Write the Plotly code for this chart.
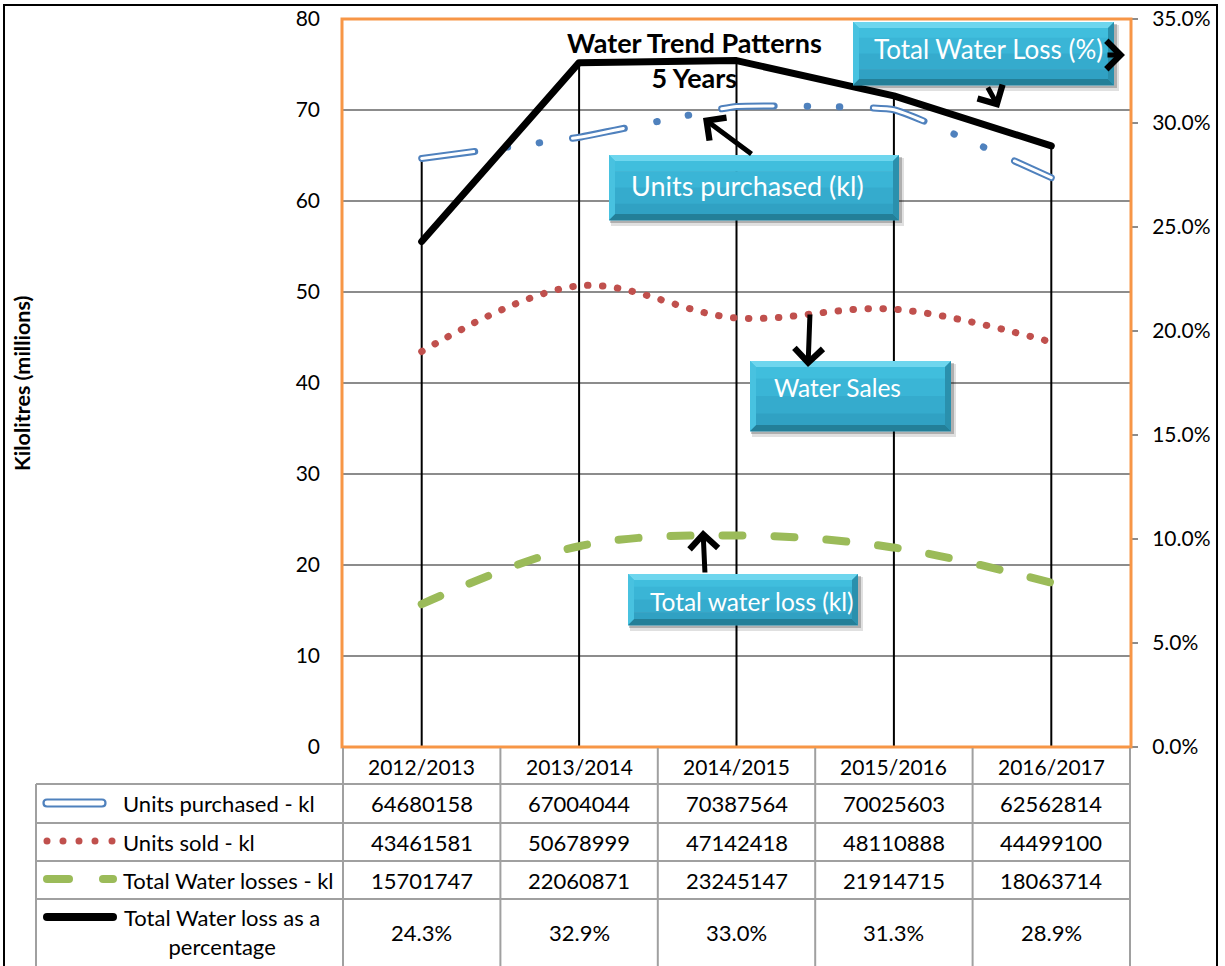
import plotly.graph_objects as go

# ---- data -------------------------------------------------------------
categories = ["2012/2013", "2013/2014", "2014/2015", "2015/2016", "2016/2017"]
units_purchased = [64680158, 67004044, 70387564, 70025603, 62562814]
units_sold = [43461581, 50678999, 47142418, 48110888, 44499100]
water_losses = [15701747, 22060871, 23245147, 21914715, 18063714]
loss_pct = [24.3, 32.9, 33.0, 31.3, 28.9]

row_labels = ["Units purchased - kl", "Units sold - kl", "Total Water losses - kl",
              "Total Water loss as a<br>percentage"]

Y_MAX, Y2_MAX = 80, 35

# ---- page geometry (pixels) --------------------------------------------
W, H = 1225, 966
PL, PR, PT, PB = 343, 1130, 19, 747          # plot area
FONT = "Lato"
BLUE, RED, GREEN, ORANGE = "#4F81BD", "#C0504D", "#9BBB59", "#F79646"
GRID = "#8C8C8C"
TABLE_LINE = "#A0A0A0"


def X(x):
    return x / W


def Y(y):
    return 1 - y / H


mil = lambda v: [a / 1e6 for a in v]

fig = go.Figure()

# drop lines from the highest series value of each year down to the axis
drop_x, drop_y = [], []
for c, p, pct in zip(categories, units_purchased, loss_pct):
    top = max(p / 1e6, pct * Y_MAX / Y2_MAX)
    drop_x += [c, c, None]
    drop_y += [0, top, None]
fig.add_trace(go.Scatter(x=drop_x, y=drop_y, mode="lines",
                         line=dict(color="black", width=2), hoverinfo="skip"))

# units purchased: outlined long dash with two dots
fig.add_trace(go.Scatter(x=categories, y=mil(units_purchased), mode="lines",
                         line=dict(color=BLUE, width=7, shape="spline", smoothing=0.3,
                                   dash="53px,33px,0.5px,31.5px,0.5px,33.5px"),
                         name="Units purchased - kl"))
fig.add_trace(go.Scatter(x=categories, y=mil(units_purchased), mode="lines",
                         line=dict(color="white", width=3, shape="spline", smoothing=0.3,
                                   dash="52px,100px"),
                         hoverinfo="skip"))
# units sold: round dots
fig.add_trace(go.Scatter(x=categories, y=mil(units_sold), mode="lines",
                         line=dict(color=RED, width=7, shape="spline",
                                   dash="0.5px,14.5px"),
                         name="Units sold - kl"))
# water losses: dashes
fig.add_trace(go.Scatter(x=categories, y=mil(water_losses), mode="lines",
                         line=dict(color=GREEN, width=8, shape="spline",
                                   dash="20px,32px"),
                         name="Total Water losses - kl"))
# loss percentage on the secondary axis
fig.add_trace(go.Scatter(x=categories, y=loss_pct, mode="lines", yaxis="y2",
                         line=dict(color="black", width=7),
                         name="Total Water loss as a percentage"))

shapes = []
annotations = []

# outer chart frame
shapes.append(dict(type="rect", xref="paper", yref="paper",
                   x0=X(4), x1=X(1217), y0=-0.05, y1=Y(5),
                   line=dict(color="black", width=2), layer="above"))
# plot area border
shapes.append(dict(type="rect", xref="paper", yref="paper",
                   x0=X(PL - 1), x1=X(PR + 1), y0=Y(PB), y1=Y(PT),
                   line=dict(color=ORANGE, width=3), layer="above"))

# ---- data table ---------------------------------------------------------
col_w = (PR - PL) / len(categories)
col_edges = [PL + i * col_w for i in range(len(categories) + 1)]
col_mid = [PL + (i + 0.5) * col_w for i in range(len(categories))]
row_edges = [PB, 784, 823, 861, 899, 1000]
TL = 36

for xe in col_edges:
    shapes.append(dict(type="line", xref="paper", yref="paper",
                       x0=X(xe), x1=X(xe), y0=Y(PB + 1), y1=Y(1000),
                       line=dict(color=TABLE_LINE, width=2), layer="above"))
shapes.append(dict(type="line", xref="paper", yref="paper",
                   x0=X(TL), x1=X(TL), y0=Y(row_edges[1]), y1=Y(1000),
                   line=dict(color=TABLE_LINE, width=2), layer="above"))
for ye in row_edges[1:5]:
    shapes.append(dict(type="line", xref="paper", yref="paper",
                       x0=X(TL), x1=X(PR), y0=Y(ye), y1=Y(ye),
                       line=dict(color=TABLE_LINE, width=2), layer="above"))

TXT = dict(family=FONT, size=22, color="black")
HDR = dict(family=FONT, size=21, color="black")

for cx, c in zip(col_mid, categories):
    annotations.append(dict(xref="paper", yref="paper", x=X(cx), y=Y(766),
                            text=c, showarrow=False, font=HDR,
                            xanchor="center", yanchor="middle"))

table_rows = [
    [str(v) for v in units_purchased],
    [str(v) for v in units_sold],
    [str(v) for v in water_losses],
    [f"{v:.1f}%" for v in loss_pct],
]
row_y = [803.5, 842, 880, 932]
for vals, ry in zip(table_rows, row_y):
    for cx, t in zip(col_mid, vals):
        annotations.append(dict(xref="paper", yref="paper", x=X(cx), y=Y(ry),
                                text=t, showarrow=False, font=TXT,
                                xanchor="center", yanchor="middle"))

for lab, ry in zip(row_labels[:3], row_y[:3]):
    annotations.append(dict(xref="paper", yref="paper", x=X(121), y=Y(ry),
                            text=lab, showarrow=False, font=TXT,
                            xanchor="left", yanchor="middle"))
annotations.append(dict(xref="paper", yref="paper", x=X(222), y=Y(932),
                        text=row_labels[3], showarrow=False, font=TXT,
                        xanchor="center", yanchor="middle", align="center"))


def capsule(x0, x1, yc, r):
    return (f"M {X(x0)},{Y(yc - r)} L {X(x1)},{Y(yc - r)} "
            f"Q {X(x1 + r)},{Y(yc - r)} {X(x1 + r)},{Y(yc)} "
            f"Q {X(x1 + r)},{Y(yc + r)} {X(x1)},{Y(yc + r)} "
            f"L {X(x0)},{Y(yc + r)} "
            f"Q {X(x0 - r)},{Y(yc + r)} {X(x0 - r)},{Y(yc)} "
            f"Q {X(x0 - r)},{Y(yc - r)} {X(x0)},{Y(yc - r)} Z")


# legend keys inside the table
shapes.append(dict(type="path", xref="paper", yref="paper",
                   path=capsule(47, 102, 803, 3.5), fillcolor="white",
                   line=dict(color=BLUE, width=2.2), layer="above"))
for dx in [47, 63, 79, 95, 112]:
    shapes.append(dict(type="circle", xref="paper", yref="paper",
                       x0=X(dx - 3.5), x1=X(dx + 3.5), y0=Y(841 + 3.5), y1=Y(841 - 3.5),
                       fillcolor=RED, line=dict(width=0), layer="above"))
for a, b in [(47, 69), (103, 113)]:
    shapes.append(dict(type="path", xref="paper", yref="paper",
                       path=capsule(a, b, 879, 4), fillcolor=GREEN,
                       line=dict(width=0), layer="above"))
shapes.append(dict(type="path", xref="paper", yref="paper",
                   path=capsule(47, 113, 917, 4), fillcolor="black",
                   line=dict(width=0), layer="above"))


# ---- callout boxes --------------------------------------------------------
def poly(pts):
    s = "M " + " L ".join(f"{X(a)},{Y(b)}" for a, b in pts) + " Z"
    return s


def callout(x0, y0, x1, y1, b=6):
    out = []
    # soft drop shadow
    out.append(dict(type="rect", xref="paper", yref="paper",
                    x0=X(x0 + 2), x1=X(x1 + 5), y0=Y(y1 + 6), y1=Y(y0 + 3),
                    fillcolor="rgba(0,0,0,0.12)", line=dict(width=0), layer="above"))
    out.append(dict(type="rect", xref="paper", yref="paper",
                    x0=X(x0 + 1), x1=X(x1 + 3), y0=Y(y1 + 3), y1=Y(y0 + 2),
                    fillcolor="rgba(0,0,0,0.22)", line=dict(width=0), layer="above"))
    # body with a stepped vertical gradient
    bands = ["#40BEDD", "#3AB5D6", "#35ABCD", "#30A1C3"]
    n = len(bands)
    for i, col in enumerate(bands):
        ya = y0 + (y1 - y0) * i / n
        yb = y0 + (y1 - y0) * (i + 1) / n
        out.append(dict(type="rect", xref="paper", yref="paper",
                        x0=X(x0), x1=X(x1), y0=Y(yb + 0.5), y1=Y(ya),
                        fillcolor=col, line=dict(width=0), layer="above"))
    # bevel edges
    out.append(dict(type="path", xref="paper", yref="paper", layer="above",
                    path=poly([(x0, y0), (x1, y0), (x1 - b, y0 + b), (x0 + b, y0 + b)]),
                    fillcolor="#6ED6EE", line=dict(width=0)))
    out.append(dict(type="path", xref="paper", yref="paper", layer="above",
                    path=poly([(x0, y1), (x1, y1), (x1 - b, y1 - b), (x0 + b, y1 - b)]),
                    fillcolor="#237F98", line=dict(width=0)))
    out.append(dict(type="path", xref="paper", yref="paper", layer="above",
                    path=poly([(x0, y0), (x0 + b, y0 + b), (x0 + b, y1 - b), (x0, y1)]),
                    fillcolor="#48C2E0", line=dict(width=0)))
    out.append(dict(type="path", xref="paper", yref="paper", layer="above",
                    path=poly([(x1, y0), (x1 - b, y0 + b), (x1 - b, y1 - b), (x1, y1)]),
                    fillcolor="#2A90AD", line=dict(width=0)))
    return out


# (box corners), label, text left edge, text centre line, font size
boxes = [
    ((853, 22, 1114, 85), "Total Water Loss (%)", 872, 49, 26),
    ((609, 155, 899, 220), "Units purchased (kl)", 629, 185, 27),
    ((750, 361, 951, 431), "Water Sales", 772, 388, 24.5),
    ((628, 574, 858, 625), "Total water loss (kl)", 648, 601, 24.5),
]
for (bx0, by0, bx1, by1), txt, tx, ty, fs in boxes:
    shapes += callout(bx0, by0, bx1, by1)
    annotations.append(dict(xref="paper", yref="paper", x=X(tx), y=Y(ty),
                            text=txt, showarrow=False,
                            font=dict(family=FONT, size=fs, color="white"),
                            xanchor="left", yanchor="middle"))

# arrows: (head, tail) in pixels
arrows = [
    ((1125, 55), (1106, 55)),
    ((999, 108), (987, 86)),
    ((703, 118), (753, 155)),
    ((808, 367), (810, 313)),
    ((703, 530), (705, 574)),
]
for (hx, hy), (tx, ty) in arrows:
    annotations.append(dict(xref="paper", yref="paper", x=X(hx), y=Y(hy),
                            ax=tx - hx, ay=ty - hy, axref="pixel", ayref="pixel",
                            text="", showarrow=True, arrowhead=4, arrowsize=1.1,
                            arrowwidth=5, arrowcolor="black", standoff=0,
                            startstandoff=0))

# chart title and axis title
annotations.append(dict(xref="paper", yref="paper", x=X(694), y=Y(60),
                        text="<b>Water Trend Patterns<br>5 Years</b>",
                        showarrow=False, align="center",
                        font=dict(family=FONT, size=27, color="black"),
                        xanchor="center", yanchor="middle"))
annotations.append(dict(xref="paper", yref="paper", x=X(22), y=Y(384),
                        text="<b>Kilolitres (millions)</b>", textangle=-90,
                        showarrow=False,
                        font=dict(family=FONT, size=21.5, color="black"),
                        xanchor="center", yanchor="middle"))

fig.update_layout(
    width=W, height=H,
    margin=dict(l=0, r=0, t=0, b=0, pad=0),
    paper_bgcolor="white", plot_bgcolor="white",
    showlegend=False,
    font=dict(family=FONT, size=20, color="black"),
    xaxis=dict(domain=[X(PL), X(PR)], range=[-0.5, len(categories) - 0.5],
               showticklabels=False, showgrid=False, zeroline=False,
               showline=False, ticks="", automargin=False),
    yaxis=dict(domain=[Y(PB), Y(PT)], range=[0, Y_MAX], dtick=10,
               showgrid=True, gridcolor=GRID, gridwidth=1.5,
               zeroline=False, showline=False, ticks="",
               ticklabelstandoff=22, automargin=False,
               tickfont=dict(family=FONT, size=21, color="black")),
    yaxis2=dict(overlaying="y", side="right", range=[0, Y2_MAX], dtick=5,
                tickformat=".1f", ticksuffix="%", showgrid=False,
                zeroline=False, showline=False, ticks="outside", ticklen=7,
                tickcolor=GRID, tickwidth=1.5, ticklabelstandoff=10,
                automargin=False,
                tickfont=dict(family=FONT, size=21, color="black")),
    shapes=shapes,
    annotations=annotations,
)

round_caps = ("document.querySelectorAll('.scatterlayer .js-line').forEach(function(p){"
              "p.style.strokeLinecap='round';p.style.strokeLinejoin='round';});")
fig.write_html("out.html", post_script=round_caps)
